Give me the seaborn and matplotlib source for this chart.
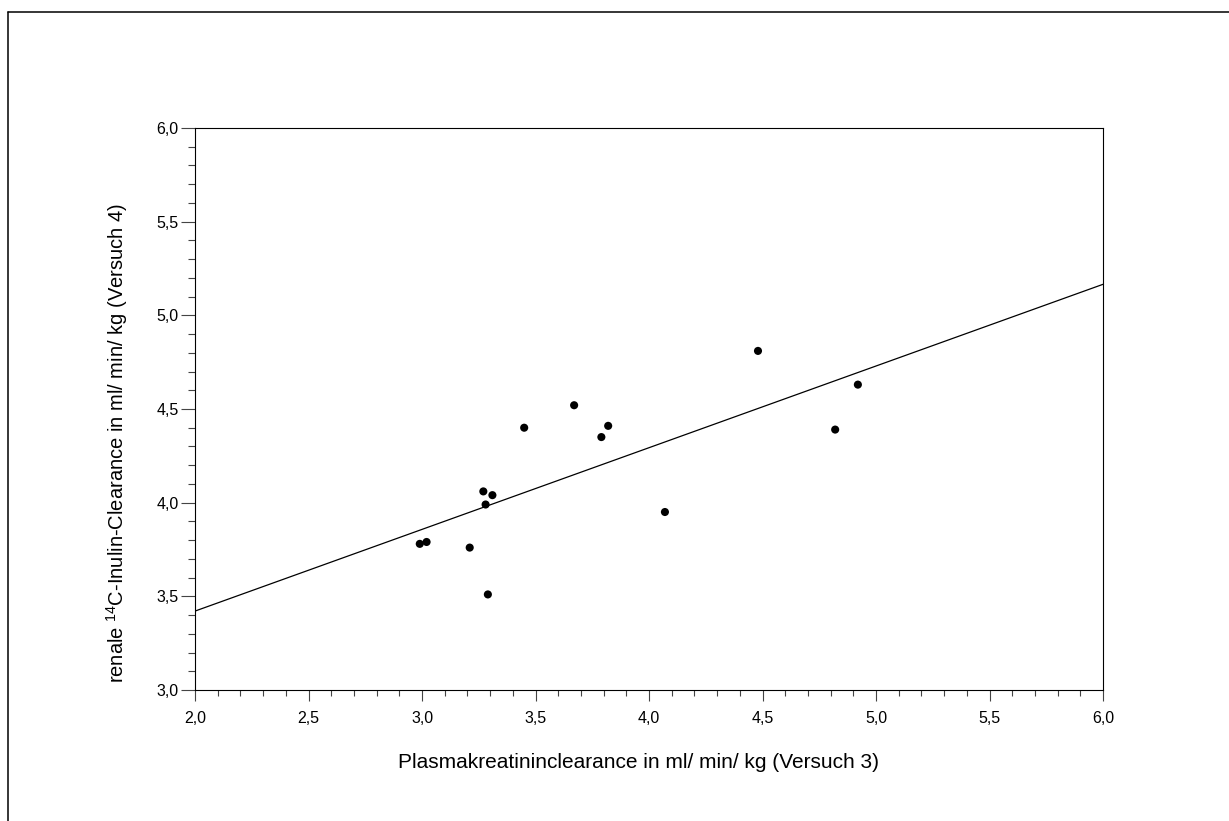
import matplotlib
matplotlib.use("Agg")
import matplotlib.pyplot as plt
import matplotlib.ticker as mticker
from matplotlib.lines import Line2D
import seaborn as sns
import pandas as pd
import numpy as np

# Data
plasmakreatinin = [2.99, 3.02, 3.21, 3.29, 3.27, 3.31, 3.28, 3.45, 3.67, 3.79, 3.82, 4.07, 4.48, 4.92, 4.82]
inulin = [3.78, 3.79, 3.76, 3.51, 4.06, 4.04, 3.99, 4.40, 4.52, 4.35, 4.41, 3.95, 4.81, 4.63, 4.39]

x_ticks = [2.0, 2.5, 3.0, 3.5, 4.0, 4.5, 5.0, 5.5, 6.0]
y_ticks = [3.0, 3.5, 4.0, 4.5, 5.0, 5.5, 6.0]

df = pd.DataFrame({"x": plasmakreatinin, "y": inulin})

sns.set_style("ticks")
plt.rcParams["font.family"] = ["Liberation Sans", "DejaVu Sans"]
plt.rcParams["text.color"] = "black"
plt.rcParams["axes.labelcolor"] = "black"
plt.rcParams["xtick.color"] = "black"
plt.rcParams["ytick.color"] = "black"
plt.rcParams["mathtext.fontset"] = "custom"
plt.rcParams["mathtext.rm"] = "Liberation Sans"
plt.rcParams["mathtext.it"] = "Liberation Sans:italic"
plt.rcParams["mathtext.bf"] = "Liberation Sans:bold"

fig = plt.figure(figsize=(12.29, 8.21), dpi=100)
ax = fig.add_axes([0.1587, 0.1596, 0.7388, 0.6845])

ax.set_xlim(2.0, 6.0)
ax.set_ylim(3.0, 6.0)

sns.regplot(data=df, x="x", y="y", ax=ax, ci=None, truncate=False,
            scatter_kws=dict(s=34, color="black", edgecolor="none", alpha=1, zorder=3),
            line_kws=dict(color="black", linewidth=0.9))

ax.set_xlim(2.0, 6.0)
ax.set_ylim(3.0, 6.0)

ax.set_xticks(x_ticks)
ax.set_yticks(y_ticks)
fmt = mticker.FuncFormatter(lambda v, p: f"{v:.1f}".replace(".", ","))
ax.xaxis.set_major_formatter(fmt)
ax.yaxis.set_major_formatter(fmt)
ax.xaxis.set_minor_locator(mticker.MultipleLocator(0.1))
ax.yaxis.set_minor_locator(mticker.MultipleLocator(0.1))

ax.tick_params(axis="x", which="major", direction="out", length=8, width=0.8,
               color="#444444", labelcolor="black", labelsize=11.5, pad=7)
ax.tick_params(axis="y", which="major", direction="out", length=10, width=0.8,
               color="#444444", labelcolor="black", labelsize=11.5, pad=2)
ax.tick_params(axis="x", which="minor", direction="out", length=4.5, width=0.8,
               color="#444444")
ax.tick_params(axis="y", which="minor", direction="out", length=5, width=0.8,
               color="#444444")
ax.tick_params(top=False, right=False, which="both")

for s in ax.spines.values():
    s.set_visible(True)
    s.set_linewidth(0.8)
    s.set_color("black")

ax.set_xlabel("Plasmakreatininclearance in ml/ min/ kg (Versuch 3)", fontsize=15, color="black")
ax.set_ylabel(r"renale $^{14}$C-Inulin-Clearance in ml/ min/ kg (Versuch 4)", fontsize=14.5, color="black")
ax.xaxis.set_label_coords(0.488, -0.112)
ax.yaxis.set_label_coords(-0.072, 0.44)

# outer frame lines (top and left)
fig.add_artist(Line2D([7.5 / 1229, 1.0], [1 - 12 / 821, 1 - 12 / 821],
                      transform=fig.transFigure, color="black", linewidth=1.1))
fig.add_artist(Line2D([7.5 / 1229, 7.5 / 1229], [0.0, 1 - 12 / 821],
                      transform=fig.transFigure, color="black", linewidth=1.1))

fig.savefig("out.png", dpi=100, facecolor="white")
